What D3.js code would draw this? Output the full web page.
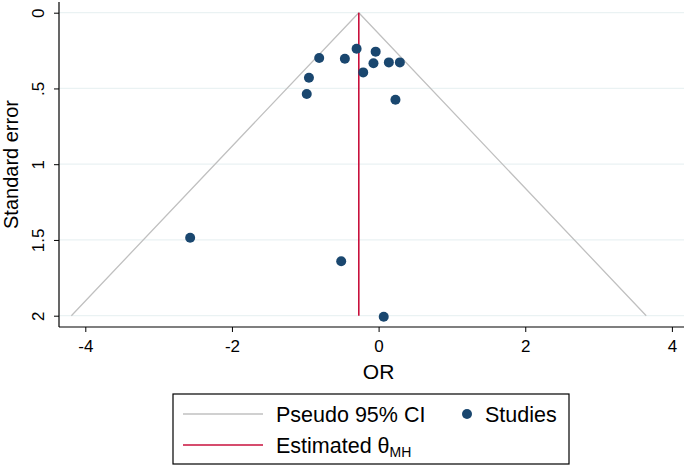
<!DOCTYPE html>
<html><head><meta charset="utf-8">
<script src="https://cdn.jsdelivr.net/npm/d3@7"></script>
<style>body{margin:0;background:#fff;}svg{display:block;font-family:"Liberation Sans",Arial,sans-serif;}</style>
</head><body><svg id="c" width="685" height="467"></svg>
<script>
const studyOR = [-0.30, -0.04, -0.81, -0.46, -0.07, 0.14, 0.29, -0.21, -0.95, -0.98, 0.23, -2.57, -0.51, 0.07];
const studySE = [0.238, 0.257, 0.299, 0.304, 0.334, 0.328, 0.328, 0.394, 0.429, 0.537, 0.574, 1.485, 1.641, 2.007];
const thetaMH = -0.27;
const seMax = 2;
const xTicks = [-4, -2, 0, 2, 4];
const yTicks = [0, 0.5, 1, 1.5, 2];
const yTickLabels = ["0", ".5", "1", "1.5", "2"];
const legendLabels = ["Pseudo 95% CI", "Studies", "Estimated θ", "MH"];

const svg = d3.select("#c");
const x = d3.scaleLinear().domain([-4, 4]).range([85.3, 671.9]);
const y = d3.scaleLinear().domain([0, 2]).range([12.7, 315.7]);
const pL = 59, pR = 684, pT = 2, pB = 327;

// grid
svg.append("g").selectAll("line").data(yTicks).join("line")
  .attr("x1", pL).attr("x2", pR).attr("y1", d => y(d)).attr("y2", d => y(d))
  .attr("stroke", "#eaf2f3").attr("stroke-width", 1.2);

// funnel
const funnel = [[thetaMH - 1.96 * seMax, seMax], [thetaMH, 0], [thetaMH + 1.96 * seMax, seMax]];
svg.append("path").datum(funnel)
  .attr("d", d3.line().x(d => x(d[0])).y(d => y(d[1])))
  .attr("fill", "none").attr("stroke", "#c0c0c0").attr("stroke-width", 1.3);

// estimate line
svg.append("line").attr("x1", x(thetaMH)).attr("x2", x(thetaMH))
  .attr("y1", y(0)).attr("y2", y(seMax))
  .attr("stroke", "#c8103c").attr("stroke-width", 1.6);

// points
svg.append("g").selectAll("circle").data(studyOR.map((o, i) => [o, studySE[i]])).join("circle")
  .attr("cx", d => x(d[0])).attr("cy", d => y(d[1])).attr("r", 5)
  .attr("fill", "#1a476f");

// axes
const xa = svg.append("g").attr("transform", `translate(0,${pB})`)
  .call(d3.axisBottom(x).tickValues(xTicks).tickSize(5).tickSizeOuter(0).tickFormat(d => d));
xa.select(".domain").remove();
xa.append("line").attr("x1", pL).attr("x2", pR).attr("stroke", "#000").attr("stroke-width", 1.2);
xa.selectAll(".tick line").attr("stroke", "#000");
xa.selectAll(".tick text").attr("fill", "#000").attr("font-size", 17).attr("y", 25).attr("dy", 0)
  .text(d => d < 0 ? "-" + Math.abs(d) : d);

const ya = svg.append("g").attr("transform", `translate(${pL},0)`)
  .call(d3.axisLeft(y).tickValues(yTicks).tickSize(5).tickSizeOuter(0).tickFormat((d, i) => yTickLabels[i]));
ya.select(".domain").remove();
ya.append("line").attr("y1", pT).attr("y2", pB).attr("stroke", "#000").attr("stroke-width", 1.2);
ya.selectAll(".tick line").attr("stroke", "#000");
ya.selectAll(".tick text").attr("fill", "#000").attr("font-size", 17)
  .attr("transform", "rotate(-90)").attr("x", 0).attr("y", -15).attr("dy", 0)
  .attr("text-anchor", "middle");

// axis titles
svg.append("text").attr("x", x(0)).attr("y", 379).attr("text-anchor", "middle")
  .attr("font-size", 21).text("OR");
svg.append("text").attr("transform", `translate(18,${(pT + pB) / 2}) rotate(-90)`)
  .attr("text-anchor", "middle").attr("font-size", 20).text("Standard error");

// legend
const lg = svg.append("g");
lg.append("rect").attr("x", 173).attr("y", 394).attr("width", 396).attr("height", 70)
  .attr("fill", "#fff").attr("stroke", "#000").attr("stroke-width", 1.2);
lg.append("line").attr("x1", 183).attr("x2", 263).attr("y1", 414).attr("y2", 414)
  .attr("stroke", "#c0c0c0").attr("stroke-width", 1.3);
lg.append("text").attr("x", 276).attr("y", 422).attr("font-size", 21.5).text(legendLabels[0]);
lg.append("circle").attr("cx", 467).attr("cy", 414).attr("r", 5).attr("fill", "#1a476f");
lg.append("text").attr("x", 485).attr("y", 422).attr("font-size", 21.5).text(legendLabels[1]);
lg.append("line").attr("x1", 183).attr("x2", 263).attr("y1", 445).attr("y2", 445)
  .attr("stroke", "#c8103c").attr("stroke-width", 1.6);
const t2 = lg.append("text").attr("x", 276).attr("y", 453).attr("font-size", 21.5);
t2.append("tspan").text(legendLabels[2]);
t2.append("tspan").attr("font-size", 14).attr("dy", 4).text(legendLabels[3]);
</script></body></html>
